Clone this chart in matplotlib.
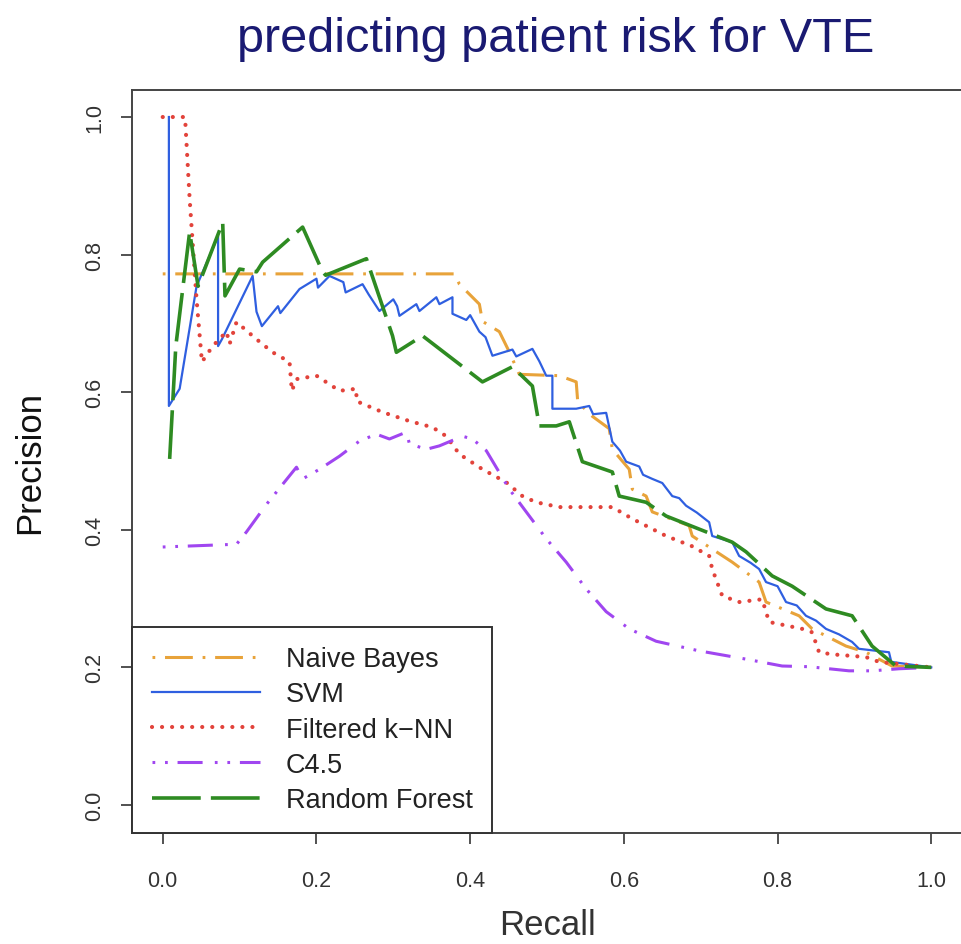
import matplotlib
matplotlib.use("Agg")
import matplotlib.pyplot as plt
from matplotlib import font_manager

# pick an Arial-like font
names = {f.name for f in font_manager.fontManager.ttflist}
plt.rcParams['font.family'] = ['Liberation Sans' if 'Liberation Sans' in names else 'DejaVu Sans']

# precision / recall curves
nb_recall = [0.0, 0.380, 0.386, 0.412, 0.416, 0.438, 0.449, 0.464, 0.516, 0.538,
             0.540, 0.559, 0.581, 0.585, 0.607, 0.611, 0.629, 0.637, 0.685, 0.689,
             0.715, 0.741, 0.776, 0.785, 0.828, 0.845, 0.889, 0.915, 0.949, 1.0]
nb_precision = [0.772, 0.772, 0.757, 0.728, 0.703, 0.688, 0.663, 0.626, 0.624, 0.615,
                0.586, 0.565, 0.547, 0.517, 0.488, 0.459, 0.449, 0.426, 0.406, 0.391,
                0.372, 0.353, 0.324, 0.295, 0.275, 0.256, 0.231, 0.222, 0.202, 0.200]

svm_recall = [0.008, 0.008, 0.022, 0.044, 0.072, 0.072, 0.077, 0.117, 0.122, 0.129,
              0.150, 0.153, 0.178, 0.200, 0.202, 0.217, 0.235, 0.238, 0.260, 0.268,
              0.282, 0.300, 0.305, 0.308, 0.330, 0.334, 0.356, 0.360, 0.377, 0.377,
              0.395, 0.400, 0.412, 0.420, 0.429, 0.455, 0.460, 0.481, 0.490, 0.499,
              0.507, 0.507, 0.538, 0.555, 0.560, 0.577, 0.585, 0.595, 0.603, 0.620,
              0.625, 0.637, 0.650, 0.663, 0.672, 0.681, 0.695, 0.711, 0.715, 0.741,
              0.750, 0.765, 0.776, 0.785, 0.800, 0.811, 0.825, 0.837, 0.850, 0.863,
              0.880, 0.897, 0.906, 0.945, 0.948, 1.0]
svm_precision = [1.000, 0.580, 0.605, 0.754, 0.827, 0.667, 0.677, 0.769, 0.717, 0.696,
                 0.725, 0.715, 0.750, 0.765, 0.752, 0.769, 0.760, 0.745, 0.757, 0.742,
                 0.718, 0.735, 0.725, 0.711, 0.728, 0.718, 0.738, 0.728, 0.738, 0.714,
                 0.705, 0.712, 0.688, 0.680, 0.653, 0.662, 0.652, 0.663, 0.645, 0.624,
                 0.624, 0.576, 0.576, 0.580, 0.568, 0.570, 0.528, 0.515, 0.499, 0.492,
                 0.480, 0.474, 0.468, 0.449, 0.446, 0.435, 0.425, 0.411, 0.391, 0.382,
                 0.362, 0.352, 0.343, 0.324, 0.318, 0.295, 0.290, 0.275, 0.268, 0.256,
                 0.248, 0.237, 0.227, 0.222, 0.208, 0.200]

knn_recall = [0.0, 0.029, 0.035, 0.044, 0.051, 0.065, 0.083, 0.087, 0.096, 0.122,
              0.143, 0.165, 0.168, 0.174, 0.200, 0.230, 0.252, 0.252, 0.286, 0.321,
              0.351, 0.369, 0.386, 0.416, 0.447, 0.468, 0.486, 0.516, 0.585, 0.611,
              0.655, 0.689, 0.711, 0.715, 0.728, 0.750, 0.780, 0.789, 0.832, 0.845,
              0.854, 0.871, 0.915, 0.932, 1.0]
knn_precision = [1.000, 1.000, 0.881, 0.735, 0.644, 0.667, 0.688, 0.670, 0.702, 0.677,
                 0.658, 0.644, 0.602, 0.619, 0.624, 0.602, 0.605, 0.587, 0.571, 0.558,
                 0.549, 0.536, 0.510, 0.488, 0.469, 0.449, 0.440, 0.433, 0.433, 0.416,
                 0.391, 0.376, 0.362, 0.343, 0.304, 0.295, 0.299, 0.266, 0.256, 0.251,
                 0.222, 0.219, 0.215, 0.208, 0.200]

c45_recall = [0.0, 0.096, 0.109, 0.135, 0.174, 0.182, 0.204, 0.230, 0.256, 0.278,
              0.295, 0.317, 0.321, 0.343, 0.360, 0.390, 0.403, 0.421, 0.451, 0.473,
              0.499, 0.525, 0.551, 0.577, 0.607, 0.642, 0.698, 0.759, 0.806, 0.841,
              0.893, 0.923, 0.958, 1.0]
c45_precision = [0.375, 0.379, 0.397, 0.437, 0.491, 0.474, 0.488, 0.507, 0.529, 0.539,
                 0.532, 0.542, 0.525, 0.517, 0.522, 0.536, 0.532, 0.515, 0.459, 0.426,
                 0.387, 0.353, 0.314, 0.281, 0.256, 0.238, 0.224, 0.212, 0.202, 0.201,
                 0.195, 0.195, 0.198, 0.200]

rf_recall = [0.009, 0.017, 0.035, 0.046, 0.078, 0.081, 0.100, 0.122, 0.130, 0.182,
             0.208, 0.212, 0.265, 0.299, 0.304, 0.338, 0.416, 0.455, 0.481, 0.490,
             0.512, 0.529, 0.546, 0.585, 0.594, 0.629, 0.655, 0.698, 0.741, 0.759,
             0.793, 0.819, 0.863, 0.897, 0.923, 0.954, 1.0]
rf_precision = [0.503, 0.667, 0.833, 0.754, 0.847, 0.740, 0.779, 0.775, 0.789, 0.840,
                0.775, 0.770, 0.794, 0.682, 0.658, 0.682, 0.615, 0.637, 0.609, 0.551,
                0.551, 0.557, 0.499, 0.484, 0.449, 0.440, 0.420, 0.401, 0.382, 0.368,
                0.333, 0.318, 0.285, 0.275, 0.231, 0.202, 0.200]

fig = plt.figure(figsize=(9.61, 9.45), dpi=100)
ax = fig.add_axes([132 / 961, 111.5 / 945, 830 / 961, 743 / 945])

ax.plot(nb_recall, nb_precision, color='#e8a33a', lw=2.2,
        linestyle=(0, (0.9, 3.2, 9.1, 3.2)), label='Naive Bayes')
ax.plot(svm_recall, svm_precision, color='#2f5fe0', lw=1.6, label='SVM')
ax.plot(knn_recall, knn_precision, color='#e2433b', lw=3.0, dash_capstyle='round',
        linestyle=(0, (0.01, 2.4)), label='Filtered k\u2212NN')
ax.plot(c45_recall, c45_precision, color='#a046f0', lw=2.2,
        linestyle=(0, (0.9, 3.2, 0.9, 3.2, 8.2, 4.0)), label='C4.5')
ax.plot(rf_recall, rf_precision, color='#2e8b22', lw=2.6,
        linestyle=(0, (13.5, 2.8)), label='Random Forest')

ax.set_xlim(-0.04, 1.04)
ax.set_ylim(-0.04, 1.04)
ticks = [0.0, 0.2, 0.4, 0.6, 0.8, 1.0]
ax.set_xticks(ticks)
ax.set_yticks(ticks)
ax.set_xticklabels(['0.0', '0.2', '0.4', '0.6', '0.8', '1.0'])
ax.set_yticklabels(['0.0', '0.2', '0.4', '0.6', '0.8', '1.0'], rotation=90, va='center')
ax.tick_params(direction='out', length=8, width=1.2, colors='#333333',
               labelsize=15.5, labelcolor='#333333')
ax.tick_params(axis='x', pad=19)
ax.tick_params(axis='y', pad=11)
for s in ax.spines.values():
    s.set_color('#444444')
    s.set_linewidth(1.4)

ax.set_xlabel('Recall', fontsize=25, color='#333333', labelpad=12)
ax.set_ylabel('Precision', fontsize=25, color='#111111', labelpad=28)

fig.text(0.578, 0.945, 'predicting patient risk for VTE', fontsize=35,
         color='#1a1a72', ha='center', va='baseline')

leg = ax.legend(loc='lower left', bbox_to_anchor=(0, 0), borderaxespad=0,
                fontsize=19.5, handlelength=4.0, handletextpad=0.95,
                borderpad=0.72, labelspacing=0.34, fancybox=False,
                edgecolor='#333333', framealpha=1)
leg.get_frame().set_linewidth(1.4)
for t in leg.get_texts():
    t.set_color('#222222')

fig.savefig('out.png', dpi=100)
